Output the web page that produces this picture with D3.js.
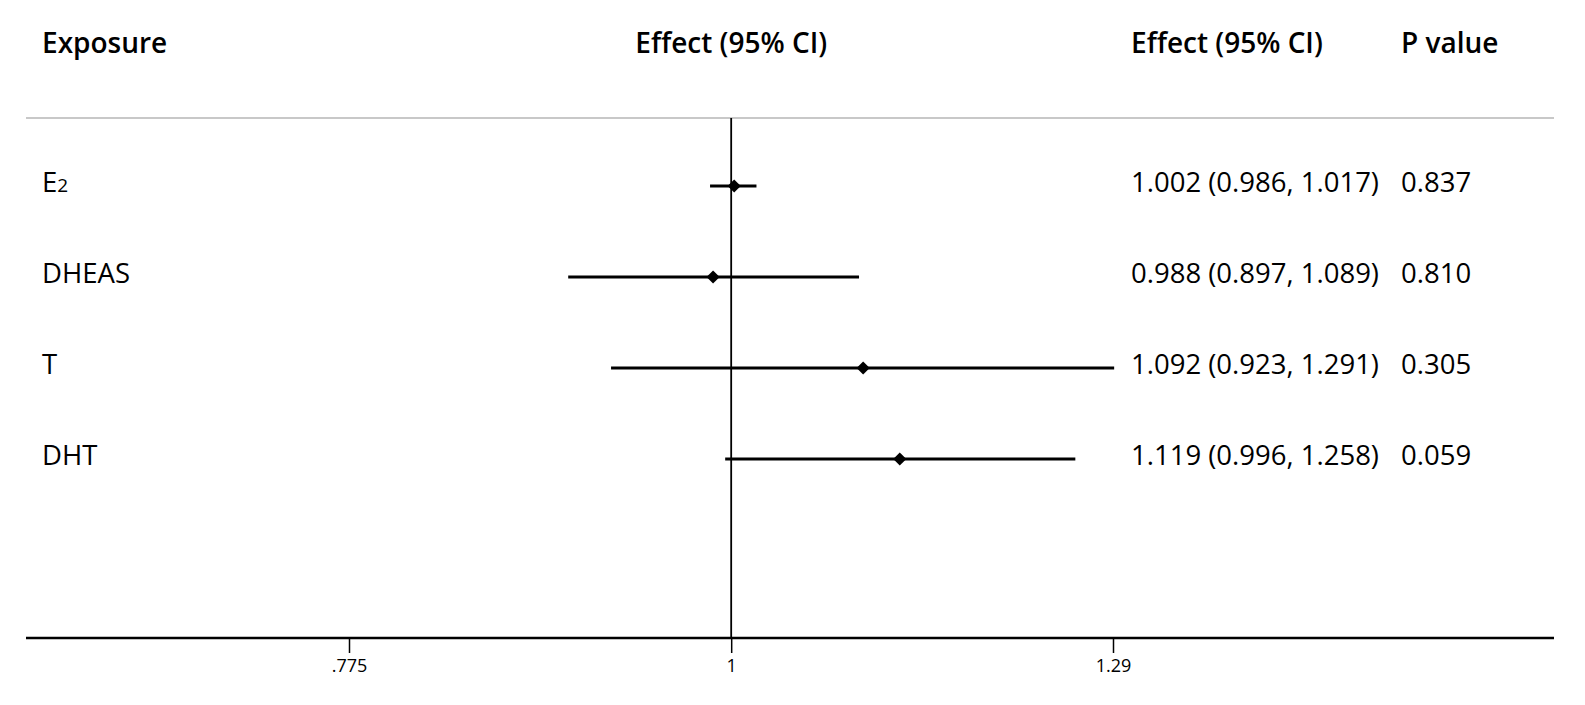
<!DOCTYPE html>
<html>
<head>
<meta charset="utf-8">
<script src="https://cdn.jsdelivr.net/npm/d3@7"></script>
<style>
  body { margin: 0; background: #fff; }
  svg { display: block; font-family: "Open Sans", "Noto Sans", sans-serif; }
  .head { font-size: 28px; font-weight: 600; fill: #000; }
  .cell { font-size: 27.5px; fill: #000; }
  .axis text { font-size: 18px; fill: #000; font-family: "Open Sans", sans-serif; }
</style>
</head>
<body>
<svg class="chart" width="1585" height="705"></svg>
<script>
let width = 1585;
let height = 705;

// data
const exposures = ["E₂", "DHEAS", "T", "DHT"];
const effects = [1.002, 0.988, 1.092, 1.119];
const lower = [0.986, 0.897, 0.923, 0.996];
const upper = [1.017, 1.089, 1.291, 1.258];
const effectText = ["1.002 (0.986, 1.017)", "0.988 (0.897, 1.089)", "1.092 (0.923, 1.291)", "1.119 (0.996, 1.258)"];
const pText = ["0.837", "0.810", "0.305", "0.059"];
const tickValues = [0.775, 1, 1.29];
const tickLabels = [".775", "1", "1.29"];

const rows = exposures.map((d, i) => ({
    name: d, est: effects[i], lo: lower[i], hi: upper[i], txt: effectText[i], p: pText[i]
}));

const svg = d3.select(".chart");

// layout
const plotLeft = 26, plotRight = 1554;
const topLine = 118, axisY = 638;

const xScale = d3.scaleLog()
    .domain([0.775, 1.29])
    .range([349, 1113]);

const yScale = d3.scalePoint()
    .domain(exposures)
    .range([186, 459]);

// headers
svg.append("text").attr("class", "head").attr("x", 42).attr("y", 53).text("Exposure");
svg.append("text").attr("class", "head").attr("x", xScale(1)).attr("y", 53)
    .attr("text-anchor", "middle").text("Effect (95% CI)");
svg.append("text").attr("class", "head").attr("x", 1131).attr("y", 53).text("Effect (95% CI)");
svg.append("text").attr("class", "head").attr("x", 1401).attr("y", 53).text("P value");

// top gray line
svg.append("line")
    .attr("x1", plotLeft).attr("x2", plotRight)
    .attr("y1", topLine).attr("y2", topLine)
    .attr("stroke", "#c8c8c8").attr("stroke-width", 2);

// x axis
const xAxis = d3.axisBottom(xScale)
    .tickValues(tickValues)
    .tickFormat((d, i) => tickLabels[i])
    .tickSize(15)
    .tickPadding(6);

const gAxis = svg.append("g")
    .attr("class", "axis")
    .attr("transform", `translate(0, ${axisY})`)
    .call(xAxis);
gAxis.select(".domain").remove();
gAxis.selectAll(".tick line").attr("stroke", "#000").attr("stroke-width", 1.5);

svg.append("line")
    .attr("x1", plotLeft).attr("x2", plotRight)
    .attr("y1", axisY).attr("y2", axisY)
    .attr("stroke", "#000").attr("stroke-width", 2.5);

// null line
svg.append("line")
    .attr("x1", xScale(1)).attr("x2", xScale(1))
    .attr("y1", topLine).attr("y2", axisY)
    .attr("stroke", "#000").attr("stroke-width", 1.8);

// CI lines
svg.append("g").selectAll("line")
    .data(rows)
    .enter()
    .append("line")
    .attr("x1", d => xScale(d.lo))
    .attr("x2", d => xScale(d.hi))
    .attr("y1", d => yScale(d.name))
    .attr("y2", d => yScale(d.name))
    .attr("stroke", "#000")
    .attr("stroke-width", 2.8);

// point estimates
svg.append("g").selectAll("path")
    .data(rows)
    .enter()
    .append("path")
    .attr("d", d3.symbol(d3.symbolDiamond2, 110))
    .attr("transform", d => `translate(${xScale(d.est)}, ${yScale(d.name)})`)
    .attr("fill", "#000");

// labels, with subscript digits drawn small
const subMap = { "₀": "0", "₁": "1", "₂": "2", "₃": "3", "₄": "4", "₅": "5", "₆": "6", "₇": "7", "₈": "8", "₉": "9" };

const labels = svg.append("g").selectAll("text")
    .data(rows)
    .enter()
    .append("text")
    .attr("class", "cell")
    .attr("x", 42)
    .attr("y", d => yScale(d.name) + 6);

labels.each(function(d) {
    const t = d3.select(this);
    for (const ch of d.name) {
        if (subMap[ch]) t.append("tspan").attr("font-size", "19px").text(subMap[ch]);
        else t.append("tspan").text(ch);
    }
});

svg.append("g").selectAll("text")
    .data(rows)
    .enter()
    .append("text")
    .attr("class", "cell")
    .attr("x", 1131)
    .attr("y", d => yScale(d.name) + 6)
    .text(d => d.txt);

svg.append("g").selectAll("text")
    .data(rows)
    .enter()
    .append("text")
    .attr("class", "cell")
    .attr("x", 1401)
    .attr("y", d => yScale(d.name) + 6)
    .text(d => d.p);
</script>
</body>
</html>
